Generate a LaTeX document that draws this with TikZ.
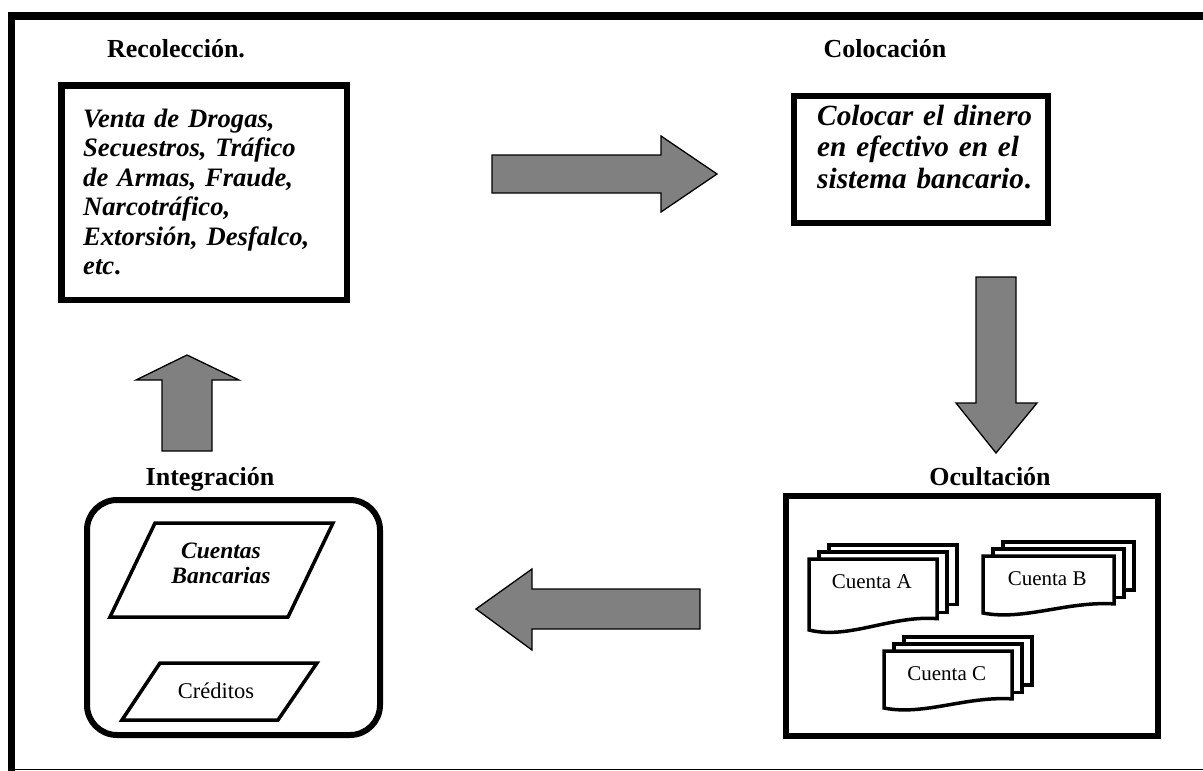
\documentclass[tikz,border=0pt]{standalone}
\usepackage{fontspec}
\setmainfont{Liberation Serif}
\begin{document}
\begin{tikzpicture}[x=1pt,y=-1pt,
  stagebox/.style={draw=black, line width=6.5pt, fill=white, inner sep=0pt},
  blockarrow/.style={draw=black, line width=1.3pt, fill=black!50, line join=miter},
  stagetitle/.style={font=\fontsize{26}{30}\selectfont\bfseries, inner sep=0pt, anchor=base},
  bodyit/.style={font=\fontsize{26.6}{29.5}\selectfont\bfseries\itshape, inner sep=0pt,
                 align=left, anchor=base west, text width=#1},
  sheet/.style={draw=black, line width=3.5pt, fill=white, line join=miter},
  sheetlabel/.style={font=\fontsize{21}{24}\selectfont, inner sep=0pt, anchor=base},
  slanted/.style={draw=black, line width=3.5pt, line join=miter},
]
\useasboundingbox (0,0) rectangle (1203,771);

% outer frame (top and left heavy, bottom hairline)
\draw[line width=7.5pt, line join=miter] (11.5,771) -- (11.5,16) -- (1203,16);
\draw[line width=1.5pt] (15,769.5) -- (1203,769.5);

% ---------- Recolección ----------
\node[stagetitle] (t1) at (176,57) {Recolección.};
\node[stagebox, minimum width=285.5pt, minimum height=214.5pt] (recbox) at (204,192.5) {};
\node[bodyit=265pt] (rectext) at (83,127)
  {Venta de Drogas,\\ Secuestros, Tráfico\\ de Armas, Fraude,\\ Narcotráfico,\\ Extorsión, Desfalco,\\ etc\textup{.}};

% ---------- Colocación ----------
\node[stagetitle] (t2) at (885,57) {Colocación};
\node[stagebox, minimum width=254pt, minimum height=127pt] (colbox) at (921,159.5) {};
\node[bodyit=240pt, font=\fontsize{29.3}{31.5}\selectfont\bfseries\itshape] (coltext) at (817,125)
  {Colocar el dinero\\ en efectivo en el\\ sistema bancario\textup{.}};

% ---------- Ocultación ----------
\node[stagetitle] (t3) at (990,485) {Ocultación};
\node[stagebox, minimum width=372pt, minimum height=240pt] (ocubox) at (972,616) {};

% stack of three account sheets: #1 name, #2 x, #3 y (front sheet top-left), #4 width, #5 height, #6 label
\newcommand{\sheetstack}[6]{%
  \draw[sheet] (#2+20,#3-14) rectangle (#2+20+#4,#3-14+0.84*#5);
  \draw[sheet] (#2+10,#3-7) rectangle (#2+10+#4,#3-7+0.85*#5);
  \draw[sheet] (#2,#3) -- (#2+#4,#3) -- (#2+#4,#3+0.84*#5)
     .. controls (#2+0.64*#4,#3+0.79*#5) and (#2+0.31*#4,#3+1.14*#5) .. (#2,#3+#5) -- cycle;
  \node[sheetlabel] (#1) at (#2+0.49*#4,#3+29) {#6};
}
\sheetstack{cuentaA}{809}{559}{128}{71}{Cuenta A}
\sheetstack{cuentaB}{983}{556}{131}{57}{Cuenta B}
\sheetstack{cuentaC}{884}{651}{128}{57}{Cuenta C}

% ---------- Integración ----------
\node[stagetitle] (t4) at (210,485) {Integración};
\node[stagebox, line width=6pt, rounded corners=30pt, minimum width=293pt, minimum height=235pt] (intbox) at (233.5,617.5) {};
\draw[slanted] (155,523) -- (333,523) -- (288,617) -- (110,617) -- cycle;
\node[font=\fontsize{23.5}{25}\selectfont\bfseries\itshape, align=center, text width=160pt,
      inner sep=0pt, anchor=base] (cuentas) at (221,558)
  {Cuentas\\ Bancarias};
\draw[slanted] (160,663) -- (317,663) -- (278,720) -- (122,720) -- cycle;
\node[font=\fontsize{22.5}{25}\selectfont, inner sep=0pt, anchor=base] (creditos) at (216,698) {Créditos};

% ---------- block arrows between the stages ----------
\draw[blockarrow] (492,155) -- (661,155) -- (661,136) -- (717,174) -- (661,212) -- (661,193) -- (492,193) -- cycle;
\draw[blockarrow] (976,277) -- (1016,277) -- (1016,403) -- (1037,403) -- (996,453) -- (956,403) -- (976,403) -- cycle;
\draw[blockarrow] (700,589) -- (532,589) -- (532,569) -- (476,609) -- (532,650) -- (532,629) -- (700,629) -- cycle;
\draw[blockarrow] (162,451) -- (162,380) -- (136,380) -- (187,355) -- (239,380) -- (212,380) -- (212,451) -- cycle;
\end{tikzpicture}
\end{document}
